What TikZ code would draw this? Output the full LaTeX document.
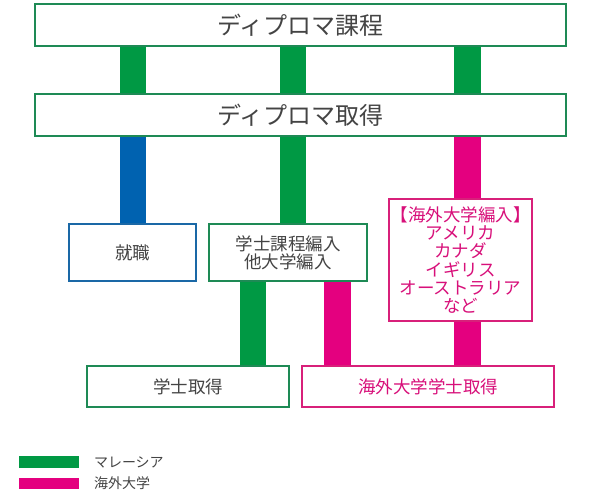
\documentclass[tikz,border=0pt]{standalone}
\usepackage{fontspec}
\setmainfont{Noto Sans CJK JP}
\begin{document}
\begin{tikzpicture}[x=1pt,y=-1pt,
  every node/.style={inner sep=0pt,outer sep=0pt},
  gtext/.style={text=txtgray},
  big/.style={font=\fontsize{24}{28}\selectfont},
  small/.style={font=\fontsize{17.5}{20}\selectfont},
  gbox/.style={draw=boxgreen,line width=2pt,fill=white,gtext},
  bbox/.style={draw=boxblue,line width=2pt,fill=white,gtext},
  pbox/.style={draw=boxpink,line width=2pt,fill=white,text=txtpink},
  bar/.style={line width=26.5pt,line cap=butt},
  gbar/.style={bar,draw=bargreen},
  bbar/.style={bar,draw=barblue},
  pbar/.style={bar,draw=barpink},
  legtext/.style={gtext,font=\fontsize{14}{16}\selectfont,anchor=west}]
\definecolor{bargreen}{HTML}{009944}
\definecolor{boxgreen}{HTML}{1E8A55}
\definecolor{barblue}{HTML}{0062B0}
\definecolor{boxblue}{HTML}{1A68A6}
\definecolor{barpink}{HTML}{E4007F}
\definecolor{boxpink}{HTML}{D8207A}
\definecolor{txtpink}{HTML}{D8107A}
\definecolor{txtgray}{HTML}{444444}
\useasboundingbox (0,0) rectangle (600,500);
\fill[white] (0,0) rectangle (600,500);

% bar x positions
\coordinate (c1) at (133,0);
\coordinate (c2) at (293,0);
\coordinate (c3) at (467.5,0);
\coordinate (c4) at (253,0);
\coordinate (c5) at (337.5,0);

% node geometry (drawn again on top of the bars)
\path
  node[gbox,minimum width=531,minimum height=42,big] (course) at (300.5,25) {ディプロマ課程}
  node[gbox,minimum width=531,minimum height=42,big] (diploma) at (300.5,115) {ディプロマ取得}
  node[bbox,minimum width=127,minimum height=57,small] (job) at (132.5,252.5) {就職}
  node[gbox,minimum width=158,minimum height=57,small,align=center] (transfer) at (288,252.5) {学士課程編入\\[-2pt]他大学編入}
  node[pbox,minimum width=143,minimum height=122,font=\fontsize{17.5}{18.3}\selectfont,align=center] (abroad) at (460.5,260) {【海外大学編入】\\アメリカ\\カナダ\\イギリス\\オーストラリア\\など}
  node[gbox,minimum width=202,minimum height=41,small] (degree) at (188,386.5) {学士取得}
  node[pbox,minimum width=252,minimum height=41,small] (abroaddeg) at (428,386.5) {海外大学学士取得};

% bars
\draw[gbar] (course.south -| c1) -- (diploma.north -| c1);
\draw[gbar] (course.south -| c2) -- (diploma.north -| c2);
\draw[gbar] (course.south -| c3) -- (diploma.north -| c3);
\draw[bbar] (diploma.south -| c1) -- (job.north -| c1);
\draw[gbar] (diploma.south -| c2) -- (transfer.north -| c2);
\draw[pbar] (diploma.south -| c3) -- (abroad.north -| c3);
\draw[gbar] (transfer.south -| c4) -- (degree.north -| c4);
\draw[pbar] (transfer.south -| c5) -- (abroaddeg.north -| c5);
\draw[pbar] (abroad.south -| c3) -- (abroaddeg.north -| c3);

% redraw nodes on top
\node[gbox,minimum width=531,minimum height=42,big] at (course) {ディプロマ課程};
\node[gbox,minimum width=531,minimum height=42,big] at (diploma) {ディプロマ取得};
\node[bbox,minimum width=127,minimum height=57,small] at (job) {就職};
\node[gbox,minimum width=158,minimum height=57,small,align=center] at (transfer) {学士課程編入\\[-2pt]他大学編入};
\node[pbox,minimum width=143,minimum height=122,font=\fontsize{17.5}{18.3}\selectfont,align=center] at (abroad) {【海外大学編入】\\アメリカ\\カナダ\\イギリス\\オーストラリア\\など};
\node[gbox,minimum width=202,minimum height=41,small] at (degree) {学士取得};
\node[pbox,minimum width=252,minimum height=41,small] at (abroaddeg) {海外大学学士取得};

% legend
\node[fill=bargreen,minimum width=60,minimum height=12] (lg) at (49,462) {};
\node[fill=barpink,minimum width=60,minimum height=11] (lp) at (49,483.5) {};
\node[legtext] (lgt) at (94,462) {マレーシア};
\node[legtext] (lpt) at (94,483.5) {海外大学};
\end{tikzpicture}
\end{document}
